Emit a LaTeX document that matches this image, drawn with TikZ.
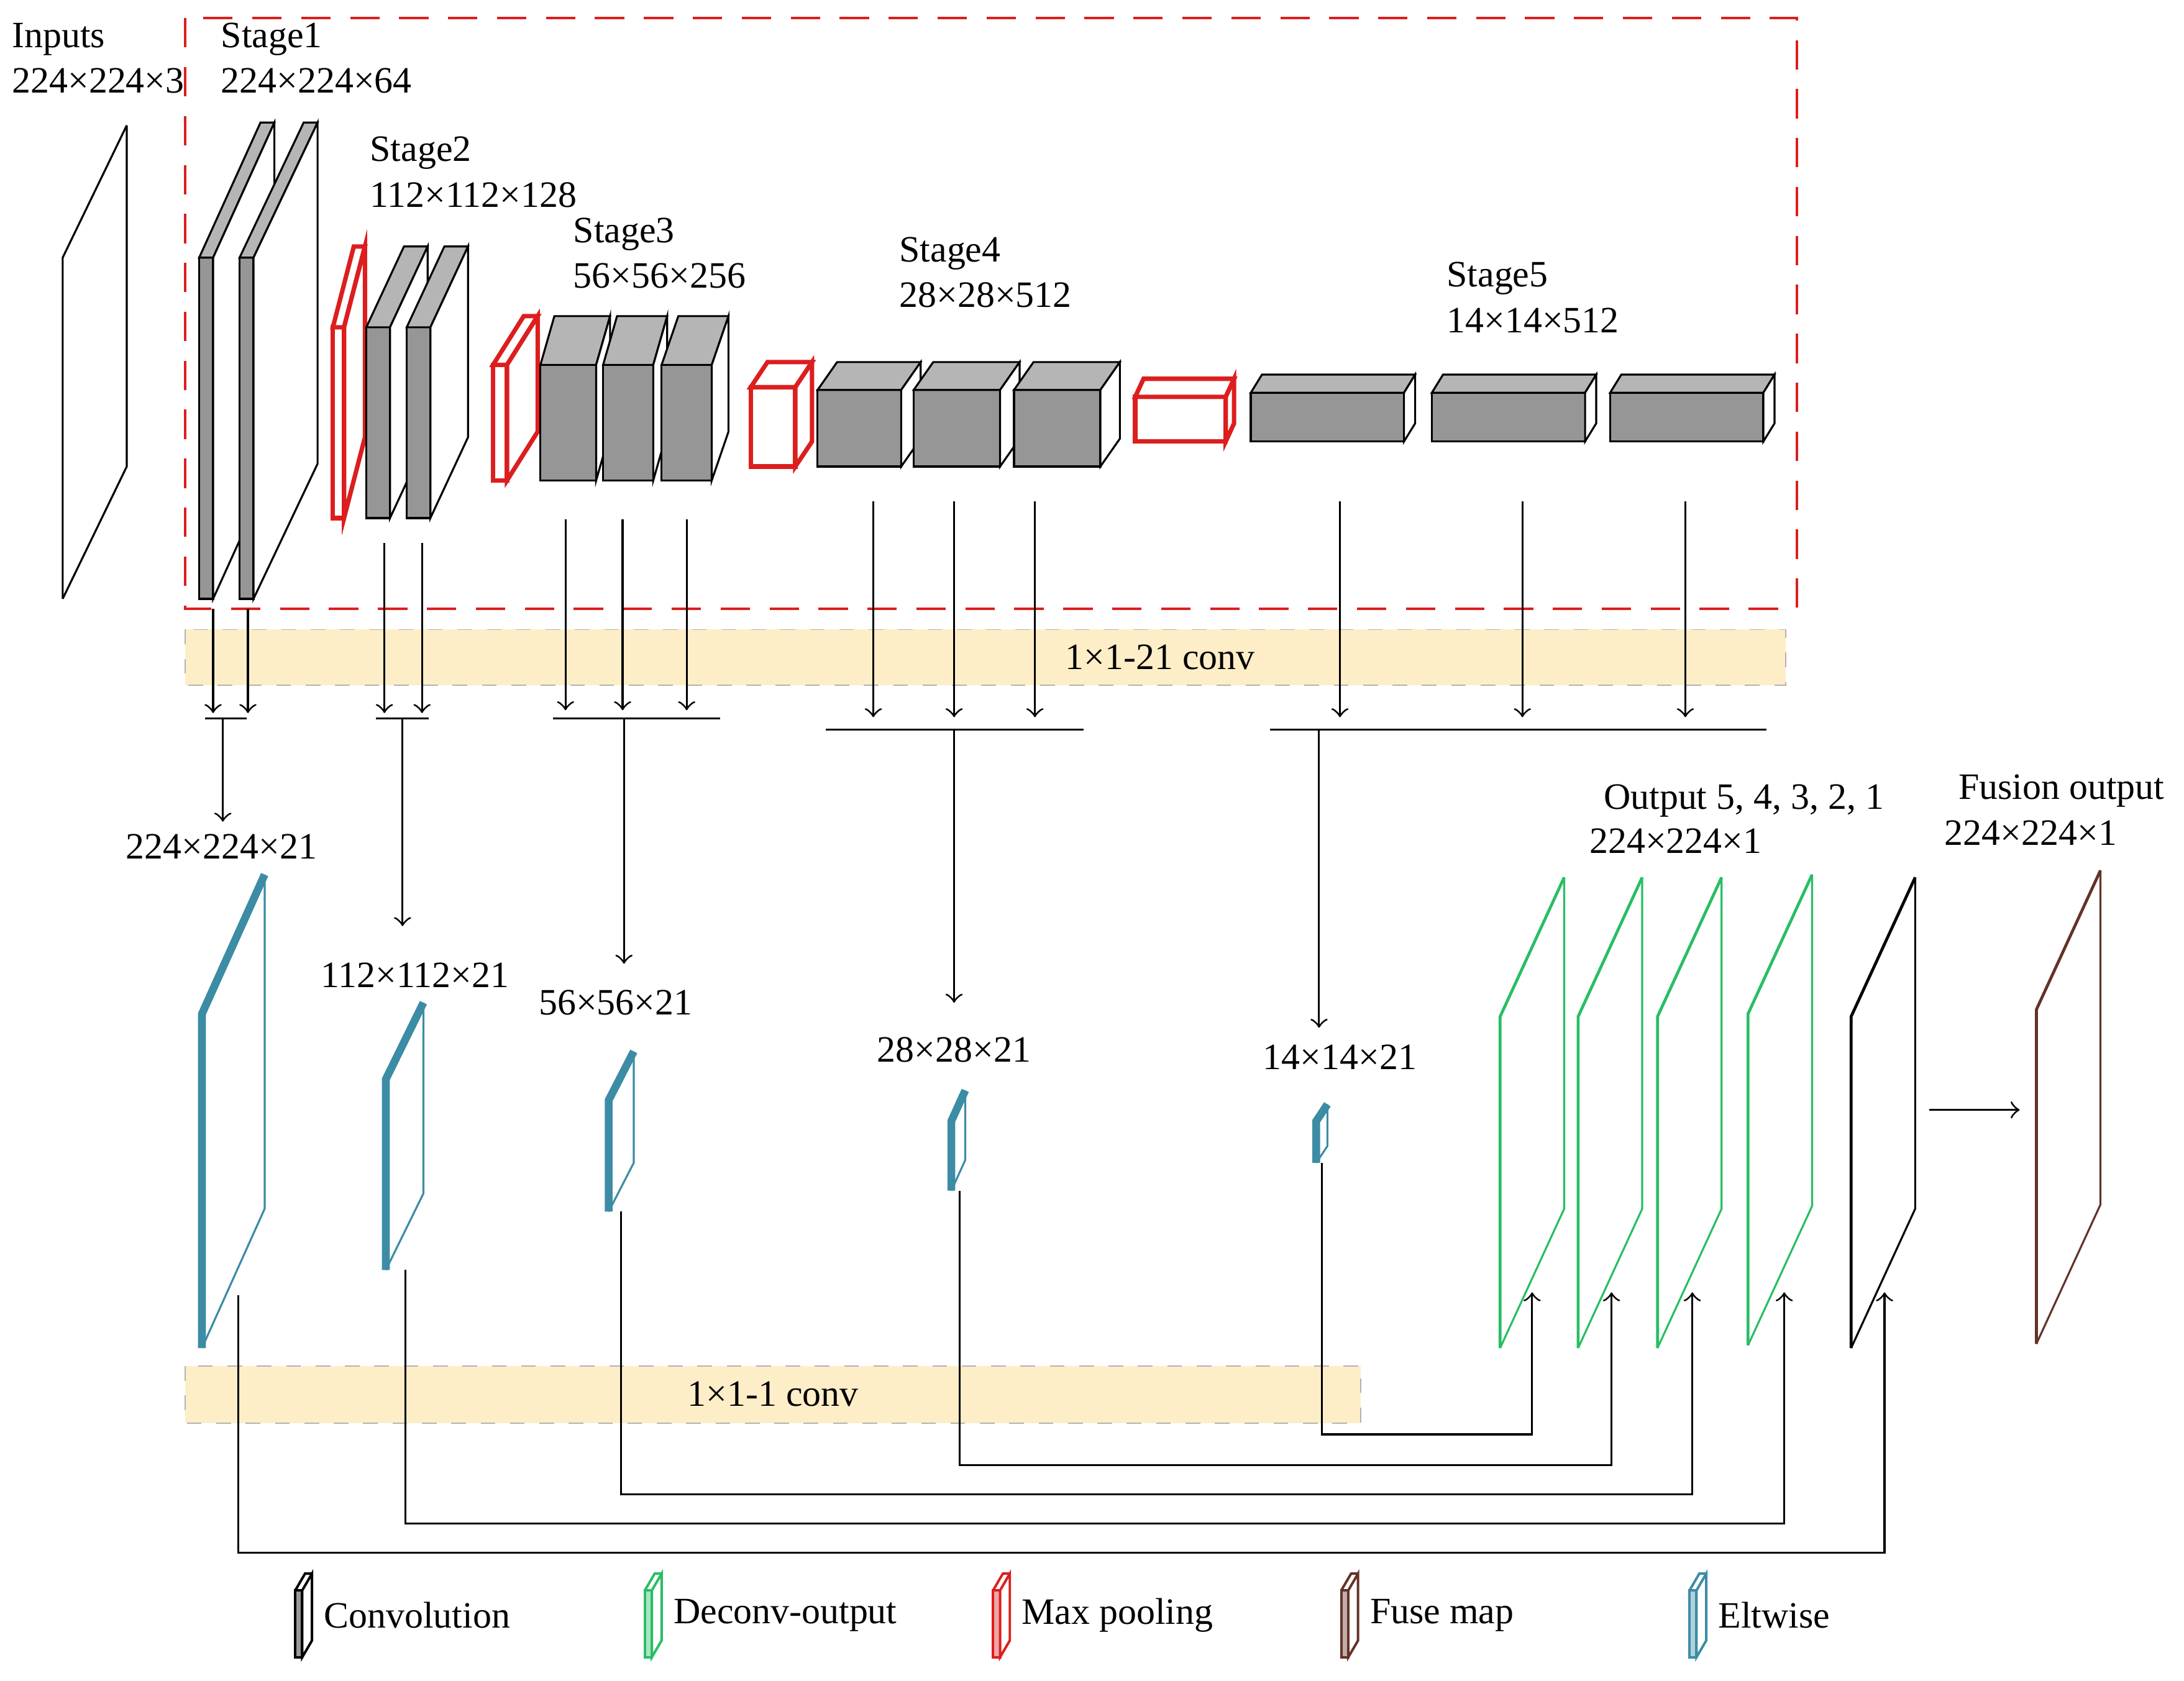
\documentclass[tikz,border=0pt]{standalone}
\usepackage{fontspec}
\setmainfont{Liberation Serif}
\usepackage{tikz}
\usepackage{xcolor}
\usetikzlibrary{arrows,backgrounds}
\definecolor{convgray}{RGB}{150,150,150}
\definecolor{poolred}{RGB}{220,30,30}
\definecolor{deconvgreen}{RGB}{40,190,100}
\definecolor{fusebrown}{RGB}{100,50,40}
\definecolor{eltteal}{RGB}{60,140,165}
\definecolor{bandyellow}{RGB}{253,238,200}
\tikzset{
  lbl/.style={anchor=west,inner sep=0pt,font=\fontsize{7.6}{8}\selectfont},
  clbl/.style={inner sep=0pt,font=\fontsize{7.6}{8}\selectfont},
  band/.style={fill=bandyellow,draw=gray!60,dashed,line width=0.2pt},
  conn/.style={line width=0.4pt,->,>=to},
}
% box: x, ytop, w, h, dx, dy, front fill, line colour, line width
\newcommand{\blk}[9]{%
  \filldraw[#8,fill=#7,line width=#9] (#1,#2) rectangle ++(#3,#4);
  \filldraw[#8,fill=#7!70,line width=#9] (#1,#2) -- ++(#5,-#6) -- ++(#3,0) -- ++(-#5,#6) -- cycle;
  \filldraw[#8,fill=white,line width=#9] (#1+#3,#2) -- ++(#5,-#6) -- ++(0,#4) -- ++(-#5,#6) -- cycle;
}
% thin map: x, ytop, h, dx, dy, colour, front width
\newcommand{\fmap}[7]{%
  \draw[#6,line width=#7] (#1,#2+#3) -- (#1,#2) -- ++(#4,-#5);
  \draw[#6,line width=0.4pt] (#1,#2) ++(#4,-#5) -- ++(0,#3) -- (#1,#2+#3);
}
\begin{document}
\begin{tikzpicture}[x=0.1mm,y=-0.1mm]
\useasboundingbox (0,0) rectangle (1568,1207);

% dashed frame and bands
\draw[poolred,line width=0.5pt,dash pattern=on 6pt off 4pt] (133,13) rectangle (1290,437);
\draw[band] (133,452) rectangle (1282,492);
\node[clbl] (band1) at (833,472) {1×1-21 conv};
\draw[band] (133,981) rectangle (977,1022);
\node[clbl] (band2) at (555,1001) {1×1-1 conv};

% inputs
\fmap{45}{185}{245}{46}{95}{black}{0.4pt}
\node[lbl] (inp) at (8,28) {Inputs};
\node[lbl] (inpd) at (8,58) {224×224×3};

% stage 1
\blk{143}{185}{10}{245}{44}{97}{convgray}{black}{0.4pt}
\blk{172}{185}{10}{245}{46}{97}{convgray}{black}{0.4pt}
\node[lbl] (s1) at (158,28) {Stage1};
\node[lbl] (s1d) at (158,58) {224×224×64};

% stage 2
\blk{239}{235}{8}{137}{15}{58}{white}{poolred}{0.9pt}
\blk{263}{235}{17}{137}{27}{58}{convgray}{black}{0.4pt}
\blk{292}{235}{17}{137}{27}{58}{convgray}{black}{0.4pt}
\node[lbl] (s2) at (265,110) {Stage2};
\node[lbl] (s2d) at (265,140) {112×112×128};

% stage 3
\blk{354}{262}{10}{83}{22}{35}{white}{poolred}{0.9pt}
\blk{388}{262}{40}{83}{10}{35}{convgray}{black}{0.4pt}
\blk{433}{262}{36}{83}{10}{35}{convgray}{black}{0.4pt}
\blk{475}{262}{36}{83}{12}{35}{convgray}{black}{0.4pt}
\node[lbl] (s3) at (411,168) {Stage3};
\node[lbl] (s3d) at (411,198) {56×56×256};

% stage 4
\blk{539}{278}{32}{57}{12}{18}{white}{poolred}{0.9pt}
\blk{587}{280}{60}{55}{14}{20}{convgray}{black}{0.4pt}
\blk{656}{280}{62}{55}{14}{20}{convgray}{black}{0.4pt}
\blk{728}{280}{62}{55}{14}{20}{convgray}{black}{0.4pt}
\node[lbl] (s4) at (645,182) {Stage4};
\node[lbl] (s4d) at (645,212) {28×28×512};

% stage 5
\blk{815}{285}{65}{32}{6}{13}{white}{poolred}{0.9pt}
\blk{898}{282}{110}{35}{8}{13}{convgray}{black}{0.4pt}
\blk{1028}{282}{110}{35}{8}{13}{convgray}{black}{0.4pt}
\blk{1156}{282}{110}{35}{8}{13}{convgray}{black}{0.4pt}
\node[lbl] (s5) at (1038,200) {Stage5};
\node[lbl] (s5d) at (1038,230) {14×14×512};

% side outputs through 1x1-21 conv
\foreach \x/\y/\e in {153/437/512,178/437/512,276/390/512,303/390/512,
  406/373/510,447/373/510,493/373/510,627/360/515,685/360/515,743/360/515,
  962/360/515,1093/360/515,1210/360/515}
  \draw[conn] (\x,\y) -- (\x,\e);
\draw (147,516) -- (177,516);
\draw (270,516) -- (308,516);
\draw (397,516) -- (517,516);
\draw (593,524) -- (778,524);
\draw (912,524) -- (1268,524);
\coordinate (m1) at (160,516);
\coordinate (m2) at (289,516);
\coordinate (m3) at (448,516);
\coordinate (m4) at (685,524);
\coordinate (m5) at (947,524);
\coordinate (e1) at (160,590);
\coordinate (e2) at (289,665);
\coordinate (e3) at (448,692);
\coordinate (e4) at (685,720);
\coordinate (e5) at (947,738);
\foreach \i in {1,...,5}
  \draw[conn] (m\i) -- (e\i);

% eltwise maps
\fmap{145}{728}{240}{45}{100}{eltteal}{1.6pt}
\fmap{277}{775}{137}{27}{55}{eltteal}{1.6pt}
\fmap{437}{790}{80}{18}{35}{eltteal}{1.6pt}
\fmap{683}{805}{50}{10}{22}{eltteal}{1.6pt}
\fmap{945}{805}{30}{8}{12}{eltteal}{1.6pt}
\node[clbl] (l1) at (159,608) {224×224×21};
\node[clbl] (l2) at (298,700) {112×112×21};
\node[clbl] (l3) at (442,720) {56×56×21};
\node[clbl] (l4) at (685,754) {28×28×21};
\node[clbl] (l5) at (962,759) {14×14×21};

% outputs
\fmap{1077}{730}{238}{46}{100}{deconvgreen}{0.6pt}
\fmap{1133}{730}{238}{46}{100}{deconvgreen}{0.6pt}
\fmap{1190}{730}{238}{46}{100}{deconvgreen}{0.6pt}
\fmap{1255}{728}{238}{46}{100}{deconvgreen}{0.6pt}
\fmap{1329}{730}{238}{46}{100}{black}{0.6pt}
\fmap{1462}{725}{240}{46}{100}{fusebrown}{0.6pt}
\coordinate (fa) at (1385,797);
\coordinate (fb) at (1450,797);
\draw[conn] (fa) -- (fb);
\node[clbl] (o1) at (1252,575) {Output 5, 4, 3, 2, 1};
\node[clbl] (o1d) at (1203,604) {224×224×1};
\node[clbl] (fo) at (1480,568) {Fusion output};
\node[clbl] (fod) at (1458,598) {224×224×1};

% skip connectors
\foreach \sx/\sy/\ly/\tx in {949/835/1030/1100,689/855/1052/1157,446/870/1073/1215,
  291/912/1094/1281,171/930/1115/1353}
  \draw[conn] (\sx,\sy) -- (\sx,\ly) -- (\tx,\ly) -- (\tx,928);

% legend
\foreach \x/\c/\t in {212/black/Convolution,463/deconvgreen/Deconv-output,
  713/poolred/Max pooling,963/fusebrown/Fuse map,1213/eltteal/Eltwise}{
  \filldraw[\c,fill=\c!40,line width=0.5pt] (\x,1142) rectangle ++(5,48);
  \draw[\c,fill=white,line width=0.5pt] (\x+5,1142) -- ++(7,-12) -- ++(0,48) -- ++(-7,12) -- cycle;
  \draw[\c,line width=0.5pt] (\x,1142) -- ++(7,-12) -- ++(5,0);
  \node[lbl] at (\x+20,1160) {\t};
}
\end{tikzpicture}
\end{document}
